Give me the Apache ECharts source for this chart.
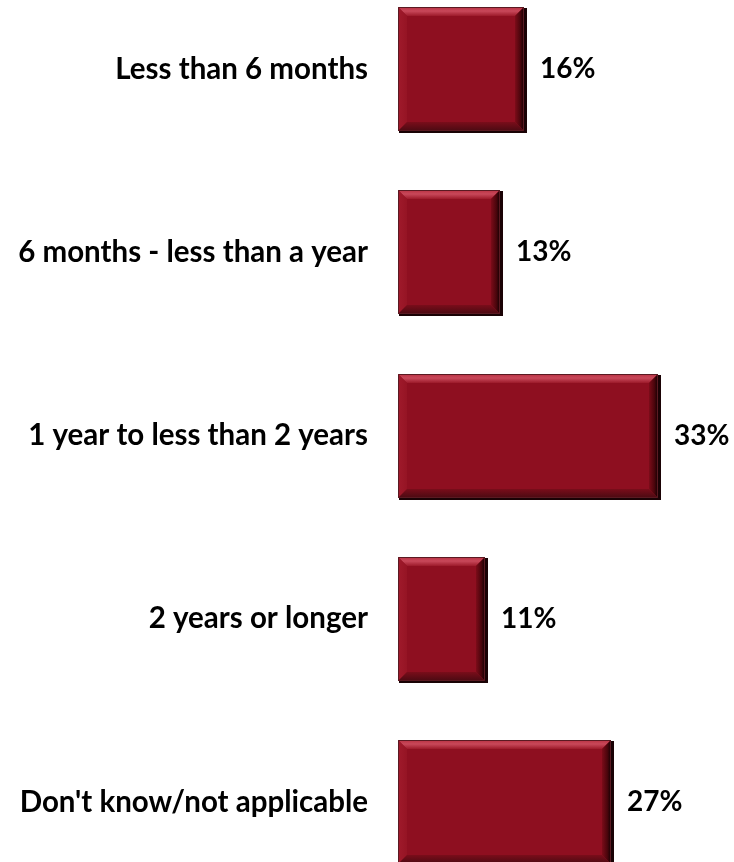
<!DOCTYPE html>
<html>
<head>
<meta charset="utf-8">
<script src="https://cdn.jsdelivr.net/npm/echarts@6/dist/echarts.min.js"></script>
<style>
  html, body { margin: 0; padding: 0; background: #ffffff; }
  #chart { width: 734px; height: 862px; }
</style>
</head>
<body>
<div id="chart"></div>
<script>
// Time frame categories, top to bottom
const categories = [
  'Less than 6 months',
  '6 months - less than a year',
  '1 year to less than 2 years',
  '2 years or longer',
  "Don't know/not applicable"
];
// Share of respondents, percent
const shares = [16, 13, 33, 11, 27];

const FONT = 'Lato, "Open Sans", sans-serif';
const BEVEL = 9;

function bevelBar(params, api) {
  const idx = api.value(1);
  const start = api.coord([0, idx]);
  const end = api.coord([api.value(0), idx]);
  const step = api.size([0, 1])[1];
  const h = step * 0.676;
  const x = Math.round(start[0]);
  const y = Math.round(start[1] - h / 2);
  const w = Math.round(end[0] - start[0]);
  const hh = Math.round(h);
  const b = BEVEL;
  return {
    type: 'group',
    children: [
      // drop shadow
      { type: 'rect', shape: { x: x + 1, y: y + 1, width: w + 2, height: hh + 1 },
        style: { fill: '#1a0205' } },
      // face
      { type: 'rect', shape: { x: x, y: y, width: w, height: hh },
        style: { fill: '#8e0f20' } },
      // top bevel
      { type: 'polygon', shape: { points: [[x, y], [x + w, y], [x + w - b, y + b], [x + b, y + b]] },
        style: { fill: new echarts.graphic.LinearGradient(0, 0, 0, 1, [
          { offset: 0, color: '#b83142' }, { offset: 0.45, color: '#c8485a' }, { offset: 1, color: '#9c1a2a' }]) } },
      // left bevel
      { type: 'polygon', shape: { points: [[x, y], [x + b, y + b], [x + b, y + hh - b], [x, y + hh]] },
        style: { fill: new echarts.graphic.LinearGradient(0, 0, 1, 0, [
          { offset: 0, color: '#a01a2b' }, { offset: 1, color: '#951424' }]) } },
      // right bevel
      { type: 'polygon', shape: { points: [[x + w, y], [x + w, y + hh], [x + w - b, y + hh - b], [x + w - b, y + b]] },
        style: { fill: new echarts.graphic.LinearGradient(0, 0, 1, 0, [
          { offset: 0, color: '#7c0c19' }, { offset: 0.6, color: '#4a050c' }, { offset: 1, color: '#120002' }]) } },
      // bottom bevel
      { type: 'polygon', shape: { points: [[x, y + hh], [x + b, y + hh - b], [x + w - b, y + hh - b], [x + w, y + hh]] },
        style: { fill: new echarts.graphic.LinearGradient(0, 0, 0, 1, [
          { offset: 0, color: '#7a0d1a' }, { offset: 1, color: '#4a0a12' }]) } },
      // outline
      { type: 'rect', shape: { x: x + 0.5, y: y + 0.5, width: w - 1, height: hh - 1 },
        style: { fill: 'none', stroke: '#5a1a22', lineWidth: 1 } },
      // value label
      { type: 'text', x: x + w + 16, y: y + hh / 2,
        style: { text: api.value(0) + '%', fill: '#000000', font: 'bold 28px ' + FONT,
          verticalAlign: 'middle', align: 'left' } }
    ]
  };
}

const chart = echarts.init(document.getElementById('chart'));
chart.setOption({
  animation: false,
  backgroundColor: '#ffffff',
  // category centres sit on the grid's top and bottom edges (boundaryGap: false)
  grid: { left: 398, width: 315.2, top: 69, height: 733 },
  xAxis: { type: 'value', min: 0, max: 40, show: false },
  yAxis: {
    type: 'category',
    data: categories,
    inverse: true,
    boundaryGap: false,
    axisLine: { show: false },
    axisTick: { show: false },
    splitLine: { show: false },
    axisLabel: { margin: 30, color: '#000000', fontFamily: FONT, fontWeight: 'bold', fontSize: 29.5 }
  },
  series: [{
    type: 'custom',
    renderItem: bevelBar,
    clip: false,
    encode: { x: 0, y: 1 },
    data: shares.map((v, i) => [v, i])
  }]
});
</script>
</body>
</html>
